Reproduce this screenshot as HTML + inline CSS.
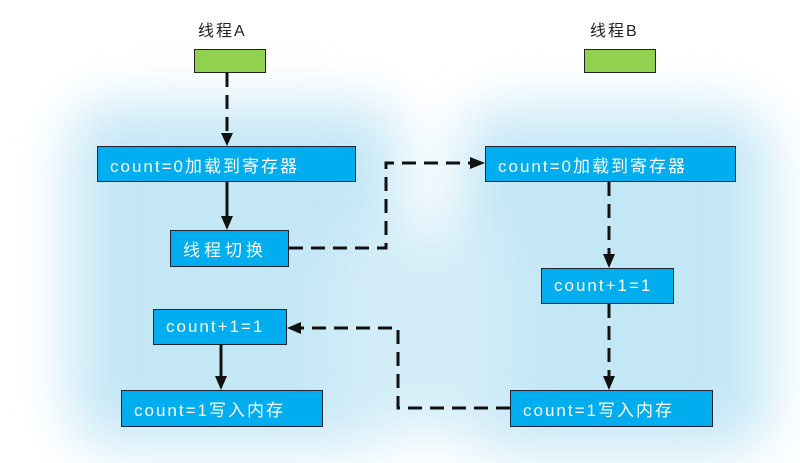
<!DOCTYPE html>
<html><head><meta charset="utf-8"><style>
body{margin:0;width:800px;height:463px;overflow:hidden;background:#fff;position:relative;font-family:"Liberation Sans","Noto Sans CJK SC",sans-serif}
.bg{position:absolute;left:0;top:0;width:800px;height:463px;filter:blur(28px)}
.blob{position:absolute;background:#c4e7f6;border-radius:40px}
.box{position:absolute;background:#00adee;border:1.5px solid #223;box-sizing:border-box;color:#fff;font-size:17px;display:flex;align-items:center;padding-left:12px;white-space:nowrap;letter-spacing:2px}
.g{position:absolute;background:#92d050;border:1.5px solid #222;box-sizing:border-box}
.t{position:absolute;font-size:16px;color:#222;letter-spacing:2px}
svg{position:absolute;left:0;top:0}
</style></head><body>
<div class="bg">
<div class="blob" style="left:70px;top:105px;width:330px;height:340px"></div>
<div class="blob" style="left:460px;top:110px;width:310px;height:340px"></div>
<div class="blob" style="left:330px;top:230px;width:180px;height:200px;background:#d3edf8"></div>
</div>
<div class="t" style="left:198px;top:17px">线程A</div>
<div class="t" style="left:590px;top:17px">线程B</div>
<div class="g" style="left:194px;top:49px;width:72px;height:24px"></div>
<div class="g" style="left:584px;top:49px;width:72px;height:24px"></div>
<div class="box" style="left:97px;top:146px;width:259px;height:36px">count=0加载到寄存器</div>
<div class="box" style="left:485px;top:146px;width:251px;height:36px">count=0加载到寄存器</div>
<div class="box" style="left:170px;top:230px;width:119px;height:37px;letter-spacing:4px">线程切换</div>
<div class="box" style="left:541px;top:268px;width:133px;height:36px">count+1=1</div>
<div class="box" style="left:153px;top:309px;width:134px;height:36px">count+1=1</div>
<div class="box" style="left:121px;top:390px;width:202px;height:37px">count=1写入内存</div>
<div class="box" style="left:510px;top:390px;width:203px;height:37px">count=1写入内存</div>
<svg width="800" height="463">
<g stroke="#111" stroke-width="3" fill="none" stroke-dasharray="14,8">
<path d="M227 73 V132"/>
<path d="M289 248 H386 V163 H470"/>
<path d="M609 182 V255"/>
<path d="M609 304 V377"/>
<path d="M510 408 H398 V328 H300"/>
</g>
<g stroke="#111" stroke-width="3" fill="none">
<path d="M227 182 V217"/>
<path d="M221 345 V378"/>
</g>
<g fill="#111">
<path d="M221 133 L233 133 L227 146Z"/>
<path d="M221 216 L233 216 L227 230Z"/>
<path d="M470 157 L470 169 L485 163Z"/>
<path d="M603 254 L615 254 L609 268Z"/>
<path d="M603 376 L615 376 L609 390Z"/>
<path d="M301 322 L301 334 L287 328Z"/>
<path d="M215 376 L227 376 L221 390Z"/>
</g>
</svg>
</body></html>
